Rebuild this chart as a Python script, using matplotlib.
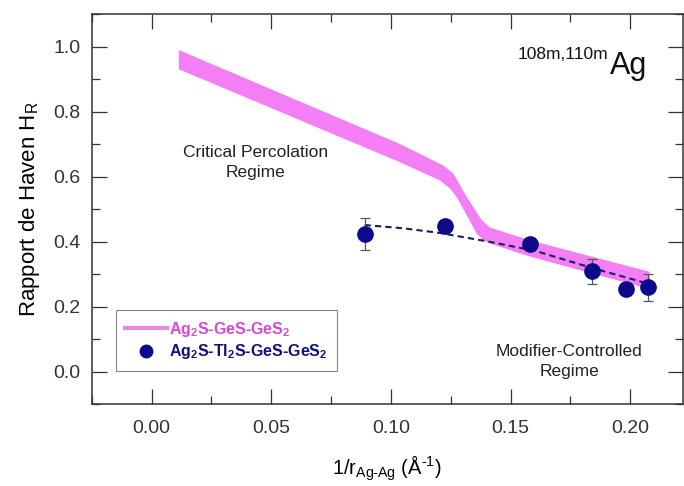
import matplotlib
matplotlib.use('Agg')
import matplotlib.pyplot as plt
from matplotlib.lines import Line2D
from matplotlib.ticker import MultipleLocator, FormatStrFormatter
import numpy as np

plt.rcParams['font.family'] = ['Liberation Sans', 'DejaVu Sans']
plt.rcParams['mathtext.fontset'] = 'custom'
plt.rcParams['mathtext.rm'] = 'Liberation Sans'
plt.rcParams['mathtext.it'] = 'Liberation Sans:italic'
plt.rcParams['mathtext.bf'] = 'Liberation Sans:bold'
plt.rcParams['mathtext.default'] = 'regular'

# Ag2S-GeS-GeS2 band (upper and lower edge)
band_top_x = [0.0114, 0.1038, 0.1219, 0.1261, 0.1317, 0.1379, 0.1414, 0.1580, 0.2081]
band_top_y = [0.990, 0.701, 0.635, 0.610, 0.538, 0.467, 0.444, 0.405, 0.308]
band_bot_x = [0.0114, 0.1038, 0.1205, 0.1247, 0.1275, 0.1358, 0.1386, 0.1427, 0.1580, 0.2081]
band_bot_y = [0.931, 0.645, 0.589, 0.564, 0.538, 0.426, 0.405, 0.392, 0.355, 0.255]

# Ag2S-Tl2S-GeS-GeS2 measurements
hr_x = [0.0892, 0.1226, 0.158, 0.1838, 0.198, 0.2075]
hr_y = [0.424, 0.448, 0.395, 0.310, 0.254, 0.260]
hr_err = [0.050, 0.0, 0.0, 0.038, 0.0, 0.042]

# dashed guide line
fit_x = [0.089, 0.105, 0.12, 0.14, 0.16, 0.184, 0.2073]
fit_y = [0.452, 0.442, 0.428, 0.402, 0.373, 0.320, 0.272]

legend_labels = [r'Ag$_\mathbf{2}$S-GeS-GeS$_\mathbf{2}$',
                 r'Ag$_\mathbf{2}$S-Tl$_\mathbf{2}$S-GeS-GeS$_\mathbf{2}$']

fig = plt.figure(figsize=(6.84, 4.86), dpi=100)
ax = fig.add_axes([0.134, 0.1677, 0.8645, 0.8029])

band_px = np.concatenate([band_top_x, band_bot_x[::-1]])
band_py = np.concatenate([band_top_y, band_bot_y[::-1]])
ax.fill(band_px, band_py, color='#f47ef4', lw=0, zorder=1)

ax.plot(fit_x, fit_y, color='#1c1c5c', lw=1.5, dashes=(3, 2), zorder=2)
ax.errorbar(hr_x, hr_y, yerr=hr_err, fmt='o', color='#0a0a8a', ms=11,
            ecolor='#55556a', elinewidth=0.9, capsize=3.5, capthick=0.9, zorder=3)

ax.set_xlim(-0.025, 0.222)
ax.set_ylim(-0.1, 1.1)
ax.xaxis.set_major_locator(MultipleLocator(0.05))
ax.xaxis.set_minor_locator(MultipleLocator(0.025))
ax.yaxis.set_major_locator(MultipleLocator(0.2))
ax.yaxis.set_minor_locator(MultipleLocator(0.1))
ax.xaxis.set_major_formatter(FormatStrFormatter('%.2f'))
ax.yaxis.set_major_formatter(FormatStrFormatter('%.1f'))
ax.tick_params(which='both', direction='in', top=True, right=True,
               labelsize=14, colors='#333333', width=0.9, pad=8)
ax.tick_params(axis='x', which='major', pad=11)
ax.tick_params(which='major', length=10.5)
ax.tick_params(which='minor', length=5.5)
for sp in ax.spines.values():
    sp.set_linewidth(1.1)
    sp.set_color('#333333')

ax.set_xlabel(r'1/r$_{Ag\text{-}Ag}$ (Å$^{\text{-}1}$)', fontsize=14.5, labelpad=12)
ax.set_ylabel(r'Rapport de Haven H$_R$', fontsize=16, labelpad=8)

ax.text(0.0434, 0.644, 'Critical Percolation\nRegime', fontsize=12.5,
        ha='center', va='center', multialignment='center', linespacing=1.45, color='#222222')
ax.text(0.1745, 0.032, 'Modifier-Controlled\nRegime', fontsize=12.5,
        ha='center', va='center', multialignment='center', linespacing=1.45, color='#222222')
ax.text(0.8737, 0.885, '108m,110m', transform=ax.transAxes, fontsize=12.5,
        ha='right', va='baseline', color='#111111')
ax.text(0.8766, 0.848, 'Ag', transform=ax.transAxes, fontsize=22,
        ha='left', va='baseline', color='#111111')

handles = [Line2D([], [], color='#e48be4', lw=3),
           Line2D([], [], ls='none', marker='o', color='#0a0a8a', ms=9)]
leg = ax.legend(handles, legend_labels, loc='lower left', bbox_to_anchor=(0.041, 0.0866),
                borderaxespad=0, fancybox=False, edgecolor='#888888', framealpha=1,
                prop={'weight': 'bold', 'size': 11.5}, handlelength=2.6,
                handletextpad=0.12, borderpad=0.6, labelspacing=0.2)
leg.get_frame().set_linewidth(0.8)
for t, c in zip(leg.get_texts(), ['#d848d8', '#12127e']):
    t.set_color(c)

fig.savefig('out.png', dpi=100)
